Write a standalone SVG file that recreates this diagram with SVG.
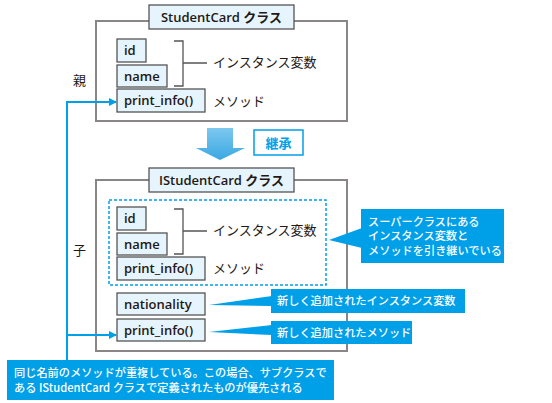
<svg xmlns="http://www.w3.org/2000/svg" width="552" height="403" viewBox="0 0 552 403">
<defs>
<style>
.outer{fill:#fff;stroke:#8a8686;stroke-width:2}
.title{fill:#e6f5fd;stroke:#555;stroke-width:1.3}
.fld{fill:#e6f5fd;stroke:#555;stroke-width:1.3}
.tt{font-family:"Open Sans","Noto Sans CJK JP",sans-serif;font-weight:600;font-size:13px;fill:#231815}
.ft{font-family:"Open Sans","Noto Sans CJK JP",sans-serif;font-weight:600;font-size:13px;fill:#231815}
.jp{font-family:"Noto Sans CJK JP",sans-serif;font-size:13px;fill:#231815}
.br{fill:none;stroke:#555;stroke-width:1.3}
.call{fill:#00a0e9}
.ct{font-family:"Noto Sans CJK JP",sans-serif;font-size:11.2px;font-weight:500;fill:#fff}
.con{fill:none;stroke:#00a0e9;stroke-width:2}
</style>
<marker id="ah" viewBox="0 0 8 8" refX="7" refY="4" markerWidth="8" markerHeight="8" markerUnits="userSpaceOnUse" orient="auto">
<path d="M0,0 L8,4 L0,8 Z" fill="#00a0e9"/>
</marker>
<linearGradient id="ag" x1="0" y1="0" x2="0" y2="1">
<stop offset="0" stop-color="#7cc8ef"/>
<stop offset="1" stop-color="#3aa8e2"/>
</linearGradient>
</defs>

<g id="parent">
<rect class="outer" x="96" y="21" width="251" height="100"/>
<rect class="title" x="149" y="5" width="145" height="24"/>
<text class="tt" x="221.5" y="22" text-anchor="middle">StudentCard クラス</text>
<rect class="fld" x="117" y="39" width="29" height="23"/>
<text class="ft" x="124" y="55">id</text>
<rect class="fld" x="117" y="65" width="50" height="22"/>
<text class="ft" x="124" y="81">name</text>
<rect class="fld" x="117" y="89" width="88" height="23"/>
<text class="ft" x="124" y="105">print_info()</text>
<path class="br" d="M174,41 H183 V86 H174 M183,63 H207"/>
<text class="jp" x="213" y="67">インスタンス変数</text>
<text class="jp" x="213" y="106">メソッド</text>
<text class="jp" x="73" y="85">親</text>
</g>

<g id="inherit">
<polygon points="207,128 233,128 233,148 245,148 220,160 196,148 207,148" fill="url(#ag)"/>
<rect x="254" y="130" width="49" height="25" fill="#fff" stroke="#00a0e9" stroke-width="1.5"/>
<text x="278.5" y="147.5" text-anchor="middle" font-family="Noto Sans CJK JP,sans-serif" font-weight="700" font-size="13" fill="#00a0e9">継承</text>
</g>

<g id="child">
<rect class="outer" x="96" y="180" width="251" height="171"/>
<rect class="title" x="149" y="168" width="145" height="24"/>
<text class="tt" x="221.5" y="185" text-anchor="middle">IStudentCard クラス</text>
<rect x="109" y="200" width="217" height="85" fill="none" stroke="#00a0e9" stroke-width="1.5" stroke-dasharray="3,2"/>
<rect class="fld" x="117" y="207" width="29" height="23"/>
<text class="ft" x="124" y="223">id</text>
<rect class="fld" x="117" y="233" width="50" height="22"/>
<text class="ft" x="124" y="249">name</text>
<rect class="fld" x="117" y="257" width="88" height="23"/>
<text class="ft" x="124" y="273">print_info()</text>
<path class="br" d="M174,209 H183 V254 H174 M183,231 H207"/>
<text class="jp" x="213" y="235">インスタンス変数</text>
<text class="jp" x="213" y="273">メソッド</text>
<text class="jp" x="73" y="255">子</text>
<rect class="fld" x="117" y="293" width="88" height="22"/>
<text class="ft" x="124" y="309">nationality</text>
<rect class="fld" x="117" y="319" width="88" height="22"/>
<text class="ft" x="124" y="335">print_info()</text>
</g>

<g id="connectors">
<path class="con" d="M67,360 V102 H116" marker-end="url(#ah)"/>
<path class="con" d="M67,335 H116" marker-end="url(#ah)"/>
</g>

<g id="callout-super">
<polygon class="call" points="329,240 362,228 362,248"/>
<rect class="call" x="361" y="209" width="143" height="54"/>
<text class="ct" x="368" y="225.5">スーパークラスにある</text>
<text class="ct" x="368" y="240">インスタンス変数と</text>
<text class="ct" x="368" y="254.5">メソッドを引き継いでいる</text>
</g>

<g id="callout-newvar">
<polygon class="call" points="209,305 272,296 272,306"/>
<rect class="call" x="271" y="289" width="194" height="24"/>
<text class="ct" x="277" y="305">新しく追加されたインスタンス変数</text>
</g>

<g id="callout-newmethod">
<polygon class="call" points="209,332 272,325 272,335"/>
<rect class="call" x="271" y="321" width="141" height="23"/>
<text class="ct" x="277" y="337">新しく追加されたメソッド</text>
</g>

<g id="callout-override">
<rect class="call" x="7" y="360" width="327" height="40"/>
<text class="ct" x="14" y="377">同じ名前のメソッドが重複している。この場合、サブクラスで</text>
<text class="ct" x="14" y="392">ある IStudentCard クラスで定義されたものが優先される</text>
</g>
</svg>
